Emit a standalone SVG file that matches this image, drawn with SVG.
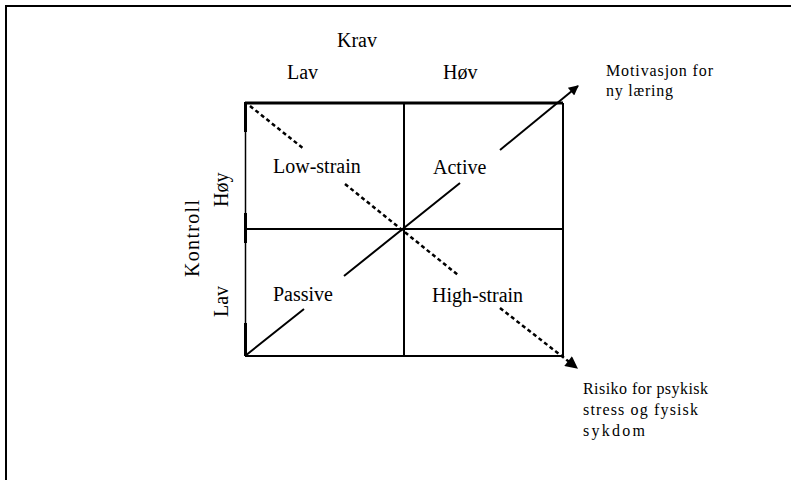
<svg xmlns="http://www.w3.org/2000/svg" width="791" height="480" viewBox="0 0 791 480">
  <style>
    .t { font-family: "Liberation Serif", "Times New Roman", serif; font-size: 20px; fill: #000; }
    .s { font-family: "Liberation Serif", "Times New Roman", serif; font-size: 16px; fill: #000; }
    .ln { stroke: #000; fill: none; }
  </style>
  <defs>
    <marker id="ah" viewBox="0 0 10 10" refX="9" refY="5" markerWidth="6" markerHeight="5" markerUnits="strokeWidth" orient="auto">
      <path d="M0,0 L10,5 L0,10 Z" fill="#000"/>
    </marker>
  </defs>
  <rect width="791" height="480" fill="#fff"/>
  <g id="frame">
    <path class="ln" stroke-width="2" d="M6,480 V6 H791"/>
  </g>
  <g id="grid">
    <path class="ln" stroke-width="3" d="M245,103 H563"/>
    <path class="ln" stroke-width="2" d="M245,356 H563 M563,103 V356 M404,103 V356 M245,229 H563"/>
    <path class="ln" stroke-width="1.5" d="M245.5,103 V356"/>
    <path class="ln" stroke-width="3" d="M245.5,102 V132 M245.5,213 V243 M245.5,323 V356"/>
  </g>
  <g id="connectors">
    <g id="motivation-arrow">
      <path class="ln" stroke-width="2" d="M245,356 L304,309 M344,276 L460,183"/>
      <path class="ln" stroke-width="2" d="M500,150 L578,86" marker-end="url(#ah)"/>
    </g>
    <g id="risk-arrow">
      <path class="ln" stroke-width="2.5" stroke-dasharray="4,3" d="M250,106 L304,149 M345,184 L458,275"/>
      <path class="ln" stroke-width="2.5" stroke-dasharray="4,3" d="M500,308 L577,368" marker-end="url(#ah)"/>
    </g>
  </g>
  <g id="axis-krav">
    <text class="t" x="337" y="47">Krav</text>
    <text class="t" x="287" y="79">Lav</text>
    <text class="t" x="443" y="79">Høv</text>
  </g>
  <g id="axis-kontroll">
    <text class="t" transform="translate(199,277) rotate(-90)" textLength="77" lengthAdjust="spacing">Kontroll</text>
    <text class="t" transform="translate(228,207) rotate(-90)">Høy</text>
    <text class="t" transform="translate(228,317) rotate(-90)">Lav</text>
  </g>
  <g id="q-low-strain"><text class="t" x="273" y="173">Low-strain</text></g>
  <g id="q-active"><text class="t" x="433" y="174">Active</text></g>
  <g id="q-passive"><text class="t" x="273" y="301">Passive</text></g>
  <g id="q-high-strain"><text class="t" x="432" y="302">High-strain</text></g>
  <g id="label-motivasjon">
    <text class="s" x="606" y="76" textLength="107" lengthAdjust="spacing">Motivasjon for</text>
    <text class="s" x="606" y="96" textLength="67" lengthAdjust="spacing">ny læring</text>
  </g>
  <g id="label-risiko">
    <text class="s" x="583" y="394" textLength="125" lengthAdjust="spacing">Risiko for psykisk</text>
    <text class="s" x="583" y="415" textLength="115" lengthAdjust="spacing">stress og fysisk</text>
    <text class="s" x="583" y="436" textLength="62" lengthAdjust="spacing">sykdom</text>
  </g>
</svg>
